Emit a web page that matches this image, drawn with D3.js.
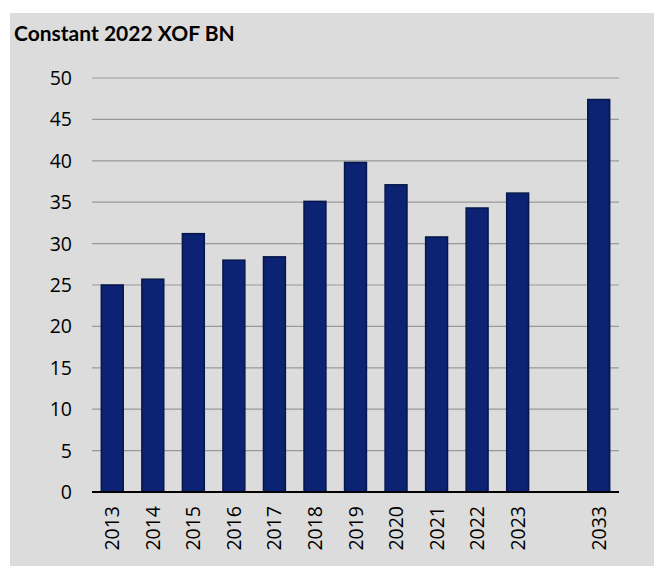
<!DOCTYPE html>
<html>
<head>
<meta charset="utf-8">
<script src="https://cdn.jsdelivr.net/npm/d3@7"></script>
<style>
  body { margin: 0; background: #fff; }
  svg text { font-family: "Open Sans", Lato, sans-serif; }
</style>
</head>
<body>
<div id="chart"></div>
<script>
// Chart data
var years = ["2013", "2014", "2015", "2016", "2017", "2018", "2019", "2020", "2021", "2022", "2023", "", "2033"];
var values = [25.0, 25.7, 31.2, 28.0, 28.4, 35.1, 39.8, 37.1, 30.8, 34.3, 36.1, null, 47.4];
var yTicks = [0, 5, 10, 15, 20, 25, 30, 35, 40, 45, 50];

var width = 654, height = 576;
var margin = { top: 78, right: 35, bottom: 84, left: 92 };
var plotW = width - margin.left - margin.right;
var plotH = height - margin.top - margin.bottom;

var svg = d3.select("#chart")
    .append("svg")
    .attr("width", width)
    .attr("height", height);

// Gray panel background
svg.append("rect")
    .attr("x", 10)
    .attr("y", 13)
    .attr("width", width - 10)
    .attr("height", 553)
    .style("fill", "#dcdcdc");

// Title
svg.append("text")
    .attr("x", 14)
    .attr("y", 41)
    .text("Constant 2022 XOF BN")
    .style("font-family", "Lato, sans-serif")
    .style("font-size", "21px")
    .style("font-weight", "bold")
    .style("fill", "#000");

var g = svg.append("g")
    .attr("transform", "translate(" + margin.left + "," + margin.top + ")");

var x = d3.scaleBand()
    .domain(years.map(function (d, i) { return i; }))
    .range([0, plotW])
    .paddingInner(0.46)
    .paddingOuter(0.23);

var y = d3.scaleLinear()
    .domain([0, 50])
    .range([plotH, 0]);

// Gridlines
g.selectAll(".grid")
    .data(yTicks.filter(function (d) { return d > 0; }))
    .enter().append("line")
    .attr("class", "grid")
    .attr("x1", 0)
    .attr("x2", plotW)
    .attr("y1", function (d) { return y(d); })
    .attr("y2", function (d) { return y(d); })
    .style("stroke", "#999")
    .style("stroke-width", 1.2);

// Y labels
g.selectAll(".ylab")
    .data(yTicks)
    .enter().append("text")
    .attr("class", "ylab")
    .attr("x", -20)
    .attr("y", function (d) { return y(d); })
    .attr("dy", "0.36em")
    .attr("text-anchor", "end")
    .text(function (d) { return d; })
    .style("font-size", "19.5px")
    .style("fill", "#000");

// Bars
g.selectAll(".bar")
    .data(values.map(function (v, i) { return { i: i, v: v }; }).filter(function (d) { return d.v !== null; }))
    .enter().append("rect")
    .attr("class", "bar")
    .attr("x", function (d) { return x(d.i); })
    .attr("y", function (d) { return y(d.v); })
    .attr("width", x.bandwidth())
    .attr("height", function (d) { return plotH - y(d.v); })
    .style("fill", "#0b2372")
    .style("stroke", "#06164a")
    .style("stroke-width", 1.5);

// X axis line
g.append("line")
    .attr("x1", 0)
    .attr("x2", plotW)
    .attr("y1", plotH)
    .attr("y2", plotH)
    .style("stroke", "#000")
    .style("stroke-width", 2);

// X labels, rotated
g.selectAll(".xlab")
    .data(years.map(function (d, i) { return { i: i, t: d }; }).filter(function (d) { return d.t !== ""; }))
    .enter().append("text")
    .attr("class", "xlab")
    .attr("transform", function (d) {
        return "translate(" + (x(d.i) + x.bandwidth() / 2) + "," + (plotH + 14) + ") rotate(-90)";
    })
    .attr("dy", "0.36em")
    .attr("text-anchor", "end")
    .text(function (d) { return d.t; })
    .style("font-size", "19.5px")
    .style("fill", "#000");
</script>
</body>
</html>
